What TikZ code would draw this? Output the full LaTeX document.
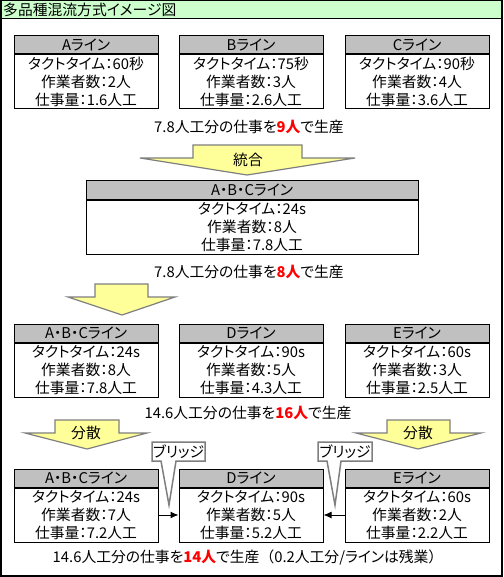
\documentclass[tikz,border=0pt]{standalone}
\usepackage{fontspec}
\setmainfont{Noto Sans CJK JP}[RawFeature=+palt]
\usetikzlibrary{arrows.meta}
\definecolor{hdrgray}{HTML}{C0C0C0}
\definecolor{titlegreen}{HTML}{CCFFCC}
\definecolor{arrowyellow}{HTML}{FFFF99}
\definecolor{edgegray}{HTML}{7F7F7F}
\definecolor{redtxt}{HTML}{FF0000}
\newcommand\rd[1]{\textcolor{redtxt}{\bfseries #1}}
\newcommand\fw[1]{{\addfontfeature{RawFeature=-palt}#1}}
\newcommand\mkline[8]{%
  \node[hdr, minimum width=#4] (#1h) at (#2,#3+9) {#5};
  \node[bodyb, minimum width=#4, anchor=north] (#1) at (#1h.south) {#6\\#7\\#8};
}
\begin{document}
\begin{tikzpicture}[x=1pt,y=-1pt,
  txt/.style={font=\fontsize{14.8}{18}\selectfont, inner sep=0pt},
  hdr/.style={txt, draw=black, line width=1pt, fill=hdrgray, minimum height=18pt},
  bodyb/.style={txt, draw=black, line width=1pt, fill=white, minimum height=54pt, align=center},
  blockarrow/.style={draw=edgegray, line width=1.2pt, fill=arrowyellow, line join=miter},
  callout/.style={draw=edgegray, line width=1.5pt, fill=white, line join=miter},
  conn/.style={draw=black, line width=1pt, -{Latex[length=8pt,width=7pt]}}]
\useasboundingbox (0,0) rectangle (503,577);
% frame and title
\fill[white] (0,0) rectangle (503,577);
\draw[fill=titlegreen, line width=1pt] (0.5,0.5) rectangle (502,18.5);
\draw[line width=1.5pt] (0.75,0.75) rectangle (501.75,575.75);
\node[txt, anchor=west] (title) at (3,9.5) {多品種混流方式イメージ図};
% row 1
\mkline{A1}{86}{36}{144}{Aライン}{タクトタイム：60秒}{作業者数：2人}{仕事量：1.6人工}
\mkline{B1}{251}{36}{144}{Bライン}{タクトタイム：75秒}{作業者数：3人}{仕事量：2.6人工}
\mkline{C1}{417}{36}{144}{Cライン}{タクトタイム：90秒}{作業者数：4人}{仕事量：3.6人工}
\node[txt] (t1) at (249,127) {7.8人工分の仕事を\rd{9人}で生産};
% arrow 1
\draw[blockarrow] (193,145) -- (302,145) -- (302,158) -- (355,158) -- (247,175) -- (140,158) -- (193,158) -- cycle;
\node[txt] (merge) at (248,160) {統合};
% row 2
\mkline{M2}{252}{181}{332}{A・B・Cライン}{タクトタイム：24s}{作業者数：8人}{仕事量：7.8人工}
\node[txt] (t2) at (249,272) {7.8人工分の仕事を\rd{8人}で生産};
% arrow 2
\draw[blockarrow] (95,284) -- (148,284) -- (148,297) -- (175,297) -- (122,315) -- (68,297) -- (95,297) -- cycle;
% row 3
\mkline{A3}{86}{324}{144}{A・B・Cライン}{タクトタイム：24s}{作業者数：8人}{仕事量：7.8人工}
\mkline{D3}{251}{324}{144}{Dライン}{タクトタイム：90s}{作業者数：5人}{仕事量：4.3人工}
\mkline{E3}{417}{324}{144}{Eライン}{タクトタイム：60s}{作業者数：3人}{仕事量：2.5人工}
\node[txt] (t3) at (248,413) {14.6人工分の仕事を\rd{16人}で生産};
% arrows 3
\draw[blockarrow] (55,420) -- (119,420) -- (119,433) -- (147,433) -- (87,449) -- (25,433) -- (55,433) -- cycle;
\node[txt] (split1) at (86,433) {分散};
\draw[blockarrow] (387,420) -- (450,420) -- (450,433) -- (481,433) -- (418,449) -- (356,433) -- (387,433) -- cycle;
\node[txt] (split2) at (418,433) {分散};
% row 4
\mkline{A4}{86}{469}{144}{A・B・Cライン}{タクトタイム：24s}{作業者数：7人}{仕事量：7.2人工}
\mkline{D4}{251}{469}{144}{Dライン}{タクトタイム：90s}{作業者数：5人}{仕事量：5.2人工}
\mkline{E4}{417}{469}{144}{Eライン}{タクトタイム：60s}{作業者数：2人}{仕事量：2.2人工}
\draw[conn] (A4.east) -- (D4.west);
\draw[conn] (E4.west) -- (D4.east);
% callouts
\draw[callout] (152,442) -- (205,442) -- (205,461) -- (176,461) -- (169,505) -- (161,461) -- (152,461) -- cycle;
\node[txt] (bridge1) at (178.5,451.5) {ブリッジ};
\draw[callout] (318,442) -- (372,442) -- (372,461) -- (341,461) -- (335,505) -- (327,461) -- (318,461) -- cycle;
\node[txt] (bridge2) at (345,451.5) {ブリッジ};
\node[txt] (t4) at (248,557) {14.6人工分の仕事を\rd{14人}で生産\fw{（}0.2人工分/ラインは残業\fw{）}};
\end{tikzpicture}
\end{document}
